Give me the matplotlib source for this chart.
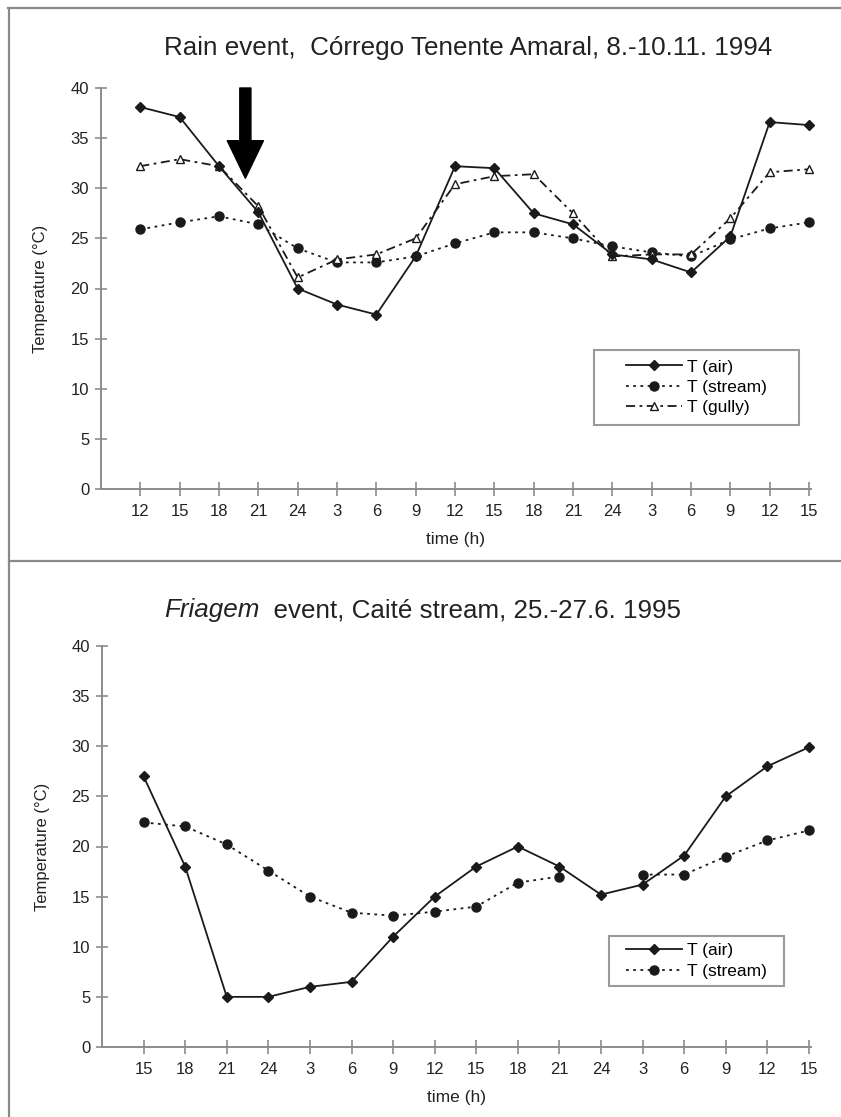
import matplotlib.pyplot as plt
import numpy as np
from matplotlib.lines import Line2D
from matplotlib.patches import Rectangle

plt.rcParams["font.family"] = ["Liberation Sans", "DejaVu Sans"]

# --- data ---
rain_hours = [12, 15, 18, 21, 24, 3, 6, 9, 12, 15, 18, 21, 24, 3, 6, 9, 12, 15]
rain_air = [38.1, 37.1, 32.2, 27.6, 20.0, 18.4, 17.4, 23.2, 32.2, 32.0,
            27.5, 26.4, 23.4, 22.9, 21.6, 25.2, 36.6, 36.3]
rain_stream = [25.9, 26.6, 27.2, 26.4, 24.0, 22.6, 22.6, 23.2, 24.5, 25.6,
               25.6, 25.0, 24.2, 23.6, 23.2, 24.9, 26.0, 26.6]
rain_gully = [32.2, 32.9, 32.2, 28.2, 21.1, 22.9, 23.4, 25.0, 30.4, 31.2,
              31.4, 27.5, 23.2, 23.4, 23.4, 27.0, 31.6, 31.9]

friagem_hours = [15, 18, 21, 24, 3, 6, 9, 12, 15, 18, 21, 24, 3, 6, 9, 12, 15]
friagem_air = [27.0, 18.0, 5.0, 5.0, 6.0, 6.5, 11.0, 15.0, 18.0, 20.0,
               18.0, 15.2, 16.2, 19.1, 25.0, 28.0, 29.9]
friagem_stream = [22.4, 22.0, 20.2, 17.6, 15.0, 13.4, 13.1, 13.5, 14.0, 16.4,
                  17.0, np.nan, 17.2, 17.2, 19.0, 20.6, 21.6]

# rain onset arrow (category position between 18 h and 21 h)
arrow_x = 2.67

W, H = 841, 1117
LINE = "#1a1a1a"
AXIS = "#8c8c8c"
TITLE_SIZE = 18.7


def px_rect(left, top, right, bottom):
    return [left / W, 1 - bottom / H, (right - left) / W, (bottom - top) / H]


def style_axes(ax, hours):
    x = np.arange(len(hours))
    ax.set_xlim(-1, len(hours) - 0.95)
    ax.set_ylim(0, 40)
    ax.set_yticks(np.arange(0, 41, 5))
    ax.set_xticks(x)
    ax.set_xticklabels([str(h) for h in hours])
    for s in ["top", "right"]:
        ax.spines[s].set_visible(False)
    for s in ["left", "bottom"]:
        ax.spines[s].set_color(AXIS)
        ax.spines[s].set_linewidth(1.4)
    ax.tick_params(axis="x", direction="inout", length=10, width=1.2, color=AXIS,
                   pad=6, labelsize=12, labelcolor="#222222")
    ax.tick_params(axis="y", direction="inout", length=9, width=1.2, color=AXIS,
                   pad=4, labelsize=12, labelcolor="#222222")
    ax.set_ylabel("Temperature (°C)", fontsize=12, color="#222222")
    ax.yaxis.set_label_coords(-0.074, 0.5)
    ax.set_xlabel("time (h)", fontsize=12.5, color="#222222")
    ax.xaxis.set_label_coords(0.5, -0.108)
    return x


def framed_legend(ax, handles, box):
    x0, y0, x1, y1 = box
    ax.add_patch(Rectangle((x0, y0), x1 - x0, y1 - y0, transform=ax.transAxes,
                           fill=False, edgecolor="#9a9a9a", linewidth=1.5, zorder=5))
    ax.legend(handles=handles, loc="center", bbox_to_anchor=((x0 + x1) / 2, (y0 + y1) / 2),
              frameon=False, handlelength=3.2, handletextpad=0.3, labelspacing=0.3,
              numpoints=1, fontsize=12.5)


fig = plt.figure(figsize=(W / 100, H / 100), dpi=100)
fig.patch.set_facecolor("white")

# panel borders
for xs, ys in [([8, 841], [8, 8]), ([9, 9], [8, 1117]), ([9, 841], [561, 561])]:
    fig.add_artist(Line2D([v / W for v in xs], [1 - v / H for v in ys],
                          transform=fig.transFigure, color="#8a8a8a", linewidth=1.6))

# ---------- top panel: rain event ----------
ax1 = fig.add_axes(px_rect(101, 88, 811, 489))
x1 = style_axes(ax1, rain_hours)

l_air, = ax1.plot(x1, rain_air, color=LINE, lw=1.3, marker="D", ms=4.8, label="T (air)",
                  zorder=4, clip_on=False)
l_str, = ax1.plot(x1, rain_stream, color=LINE, lw=1.3, ls=(0, (1.5, 2.5)), marker="o", ms=6.5,
                  label="T (stream)", zorder=3, clip_on=False)
l_gul, = ax1.plot(x1, rain_gully, color=LINE, lw=1.3, ls=(0, (5, 2.5, 1.5, 2.5)), marker="^", ms=6,
                  mfc="white", mec=LINE, mew=1, label="T (gully)", zorder=3, clip_on=False)

ax1.annotate("", xy=(arrow_x, 31.0), xytext=(arrow_x, 40.0),
             arrowprops=dict(facecolor="black", edgecolor="black", width=8,
                             headwidth=26, headlength=27, shrink=0))

framed_legend(ax1, [l_air, l_str, l_gul], (0.694, 0.160, 0.983, 0.347))

fig.text(164 / W, 1 - 55 / H, "Rain event,  Córrego Tenente Amaral, 8.-10.11. 1994",
         ha="left", va="baseline", fontsize=TITLE_SIZE, color="#222222")

# ---------- bottom panel: friagem event ----------
ax2 = fig.add_axes(px_rect(102, 646, 811, 1047))
x2 = style_axes(ax2, friagem_hours)

f_air, = ax2.plot(x2, friagem_air, color=LINE, lw=1.3, marker="D", ms=4.8, label="T (air)",
                  zorder=4, clip_on=False)
f_str, = ax2.plot(x2, friagem_stream, color=LINE, lw=1.3, ls=(0, (1.5, 2.5)), marker="o", ms=6.5,
                  label="T (stream)", zorder=3, clip_on=False)

framed_legend(ax2, [f_air, f_str], (0.715, 0.152, 0.962, 0.277))

t_it = fig.text(164 / W, 1 - 617.5 / H, "Friagem", style="italic",
                ha="left", va="baseline", fontsize=TITLE_SIZE, color="#222222")
fig.canvas.draw()
bb = t_it.get_window_extent()
fig.text(bb.x1 / W, 1 - 617.5 / H, "  event, Caité stream, 25.-27.6. 1995",
         ha="left", va="baseline", fontsize=TITLE_SIZE, color="#222222")

fig.savefig("out.png", dpi=100)
